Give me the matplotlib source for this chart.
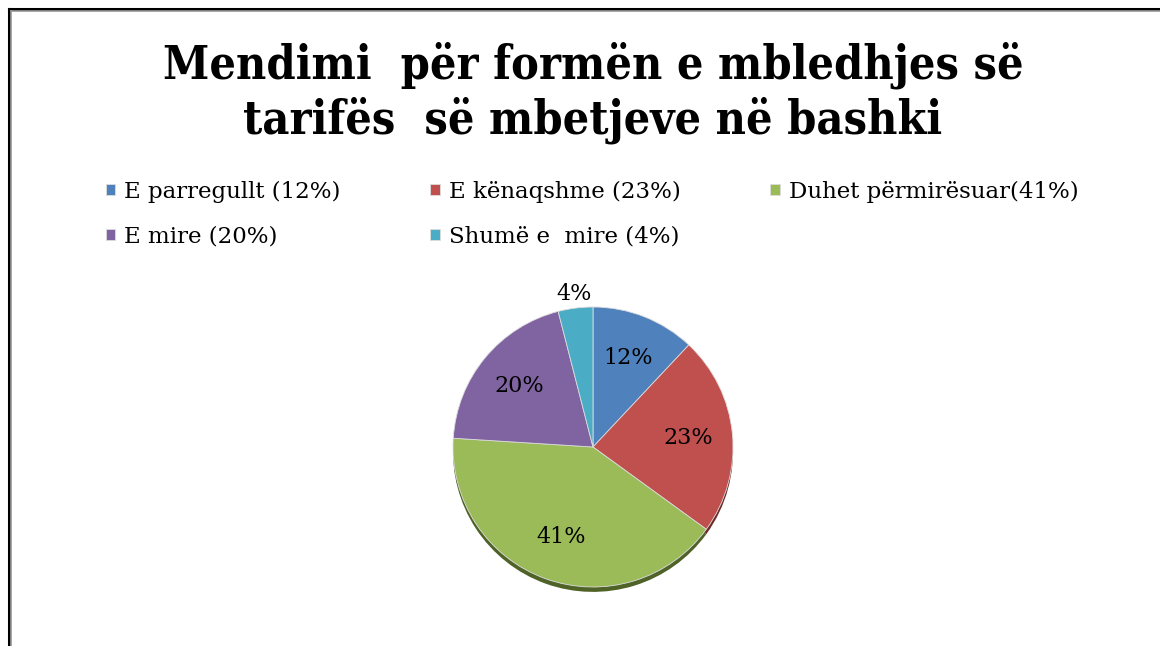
import matplotlib
matplotlib.use("Agg")
import matplotlib.pyplot as plt
import numpy as np

# Të dhënat
labels = ["E parregullt (12%)", "E kënaqshme (23%)", "Duhet përmirësuar(41%)",
          "E mire (20%)", "Shumë e  mire (4%)"]
values = [12, 23, 41, 20, 4]
colors = ["#4F81BD", "#C0504D", "#9BBB59", "#8064A2", "#4BACC6"]
shade = ["#2c4a70", "#6e2b29", "#4f6228", "#483a5c", "#2a6473"]
title = "Mendimi  për formën e mbledhjes së\ntarifës  së mbetjeve në bashki"

W, H = 1160, 646
fig = plt.figure(figsize=(W / 100, H / 100), dpi=100)

# Korniza (majtas dhe lart)
fig.add_artist(plt.Line2D([8.5 / W, 8.5 / W], [0, 1 - 8.5 / H], color="black", lw=2.2))
fig.add_artist(plt.Line2D([8.5 / W, 1], [1 - 8.5 / H, 1 - 8.5 / H], color="black", lw=2.2))
fig.add_artist(plt.Line2D([11 / W, 11 / W], [0, 1 - 11 / H], color="#999999", lw=1.2))
fig.add_artist(plt.Line2D([11 / W, 1], [1 - 11 / H, 1 - 11 / H], color="#999999", lw=1.2))

fig.text(593 / W, 1 - 93 / H, title, ha="center", va="center", fontsize=33.5,
         fontweight="bold", family="DejaVu Serif", stretch="condensed",
         linespacing=1.2)

cx, cy, r = 593, 447, 140
ax = fig.add_axes([(cx - r) / W, (H - cy - r) / H, 2 * r / W, 2 * r / H])

# hija poshtë (efekt 3D)
ax.pie(values, colors=shade, startangle=90, counterclock=False,
       center=(0, -0.035), radius=1.0, wedgeprops=dict(linewidth=0))

wedges, _, autotexts = ax.pie(
    values, colors=colors, startangle=90, counterclock=False,
    autopct="%d%%", pctdistance=0.68,
    wedgeprops=dict(edgecolor="#dddddd", linewidth=0.6),
    textprops=dict(fontsize=16, family="DejaVu Serif", color="black"))

for t, v in zip(autotexts, values):
    if v < 5:
        x, y = t.get_position()
        k = 1.1 / 0.68
        t.set_position((x * k, y * k))

ax.set_xlim(-1, 1)
ax.set_ylim(-1, 1)
ax.set_aspect("equal")
ax.axis("off")

order = [0, 3, 1, 4, 2]
fig.legend([wedges[i] for i in order], [labels[i] for i in order],
           ncol=3, loc="upper left", bbox_to_anchor=(85 / W, 1 - 160 / H),
           frameon=False, prop=dict(family="DejaVu Serif", size=16.5),
           handlelength=0.42, handleheight=0.42, handletextpad=0.4,
           columnspacing=3.9, labelspacing=1.0)

fig.savefig("out.png", dpi=100, facecolor="white")
